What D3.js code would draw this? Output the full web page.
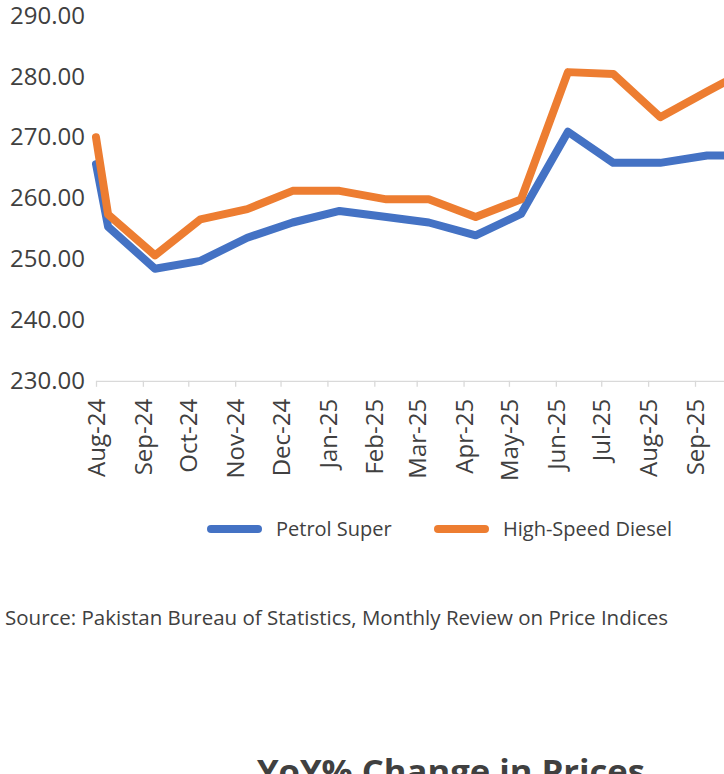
<!DOCTYPE html>
<html lang="en">

<head>
    <meta charset="UTF-8">
    <title>Petrol and Diesel Prices</title>
    <script src="https://d3js.org/d3.v7.min.js"></script>
    <style>
        * {
            margin: 0;
            padding: 0;
        }

        body {
            background: #ffffff;
        }

        text {
            font-family: "Open Sans", "Noto Sans", sans-serif;
            fill: #404040;
        }
    </style>
</head>

<body>
    <script>
        var width = 724;
        var height = 774;

        // data (Rs per litre), first point at start of Aug-24 then monthly readings
        var dates = ['2024-08-01', '2024-08-09', '2024-09-09', '2024-10-09', '2024-11-09', '2024-12-09',
            '2025-01-09', '2025-02-09', '2025-03-09', '2025-04-09', '2025-05-09', '2025-06-09',
            '2025-07-09', '2025-08-09', '2025-09-09', '2025-10-09'];
        var petrolSuper = [265.6, 255.3, 248.4, 249.7, 253.5, 256.0, 257.9, 256.9, 256.0, 253.9, 257.4, 270.9, 265.8, 265.8, 267.0, 267.0];
        var hsDiesel = [270.0, 257.3, 250.6, 256.5, 258.2, 261.2, 261.2, 259.8, 259.8, 256.9, 259.8, 280.7, 280.4, 273.3, 277.5, 281.5];
        var yTicks = [230, 240, 250, 260, 270, 280, 290];
        var seriesNames = ['Petrol Super', 'High-Speed Diesel'];
        var colors = ['#4472C4', '#ED7D31'];

        var parse = d3.timeParse('%Y-%m-%d');

        var svg = d3.select('body')
            .append('svg')
            .attr('width', width)
            .attr('height', height);

        // scales (the plot runs past the right edge of the picture)
        var xScale = d3.scaleTime()
            .domain([parse('2024-08-01'), parse('2025-09-01')])
            .range([96, 695]);
        var yScale = d3.scaleLinear()
            .domain([230, 290])
            .range([380.8, 15.5]);

        // x axis
        var xEnd = xScale.invert(width + 40);
        var xais = d3.axisBottom(xScale)
            .ticks(d3.timeMonth.every(1))
            .tickFormat(d3.timeFormat('%b-%y'))
            .tickSize(6)
            .tickSizeOuter(0);

        var xScaleAxis = xScale.copy().domain([parse('2024-08-01'), xEnd]).range([96, width + 40]);
        xais.scale(xScaleAxis);

        var xAxis = svg.append('g')
            .attr('class', 'xaxis')
            .attr('transform', 'translate(0,' + yScale(230) + ')')
            .call(xais);

        xAxis.select('.domain').attr('stroke', '#d9d9d9').attr('stroke-width', 1.3);
        xAxis.selectAll('.tick line').attr('stroke', '#d9d9d9').attr('stroke-width', 1.3);
        xAxis.selectAll('.tick text')
            .style('font-size', '24px')
            .attr('fill', '#404040')
            .attr('text-anchor', 'end')
            .attr('transform', 'translate(0,18) rotate(-90)')
            .attr('x', 0)
            .attr('y', 0)
            .attr('dy', '0.36em');

        // y axis labels only
        var yais = d3.axisLeft(yScale)
            .tickValues(yTicks)
            .tickFormat(d3.format('.2f'))
            .tickSize(0)
            .tickPadding(0);

        var yAxis = svg.append('g')
            .attr('class', 'yaxis')
            .attr('transform', 'translate(85,0)')
            .call(yais);

        yAxis.select('.domain').remove();
        yAxis.selectAll('.tick text')
            .style('font-size', '24px')
            .attr('fill', '#404040');

        // lines
        var line = d3.line()
            .x(function (d) { return xScale(d.date); })
            .y(function (d) { return yScale(d.value); });

        var allSeries = [petrolSuper, hsDiesel].map(function (vals) {
            return vals.map(function (v, i) {
                return { date: parse(dates[i]), value: v };
            });
        });

        svg.selectAll('.series')
            .data(allSeries)
            .enter()
            .append('path')
            .attr('class', 'series')
            .attr('d', line)
            .attr('fill', 'none')
            .attr('stroke', function (d, i) { return colors[i]; })
            .attr('stroke-width', 8)
            .attr('stroke-linejoin', 'round')
            .attr('stroke-linecap', 'round');

        // legend
        var legendX = [211, 438];
        var legend = svg.selectAll('.legend')
            .data(seriesNames)
            .enter()
            .append('g')
            .attr('class', 'legend')
            .attr('transform', function (d, i) { return 'translate(' + legendX[i] + ',529)'; });

        legend.append('line')
            .attr('x1', 0)
            .attr('x2', 47)
            .attr('y1', 0)
            .attr('y2', 0)
            .attr('stroke', function (d, i) { return colors[i]; })
            .attr('stroke-width', 8)
            .attr('stroke-linecap', 'round');

        legend.append('text')
            .attr('x', 65)
            .attr('y', 0)
            .attr('dy', '0.36em')
            .style('font-size', '20px')
            .text(function (d) { return d; });

        // source note
        svg.append('text')
            .attr('x', 5)
            .attr('y', 625)
            .style('font-size', '20px')
            .attr('textLength', 663)
            .attr('lengthAdjust', 'spacingAndGlyphs')
            .text('Source: Pakistan Bureau of Statistics, Monthly Review on Price Indices');

        // next chart title (cut off at the bottom)
        svg.append('text')
            .attr('x', 451)
            .attr('y', 783)
            .attr('text-anchor', 'middle')
            .style('font-size', '32px')
            .style('font-weight', 'bold')
            .attr('textLength', 388)
            .attr('lengthAdjust', 'spacingAndGlyphs')
            .text('YoY% Change in Prices');
    </script>

</body>

</html>
